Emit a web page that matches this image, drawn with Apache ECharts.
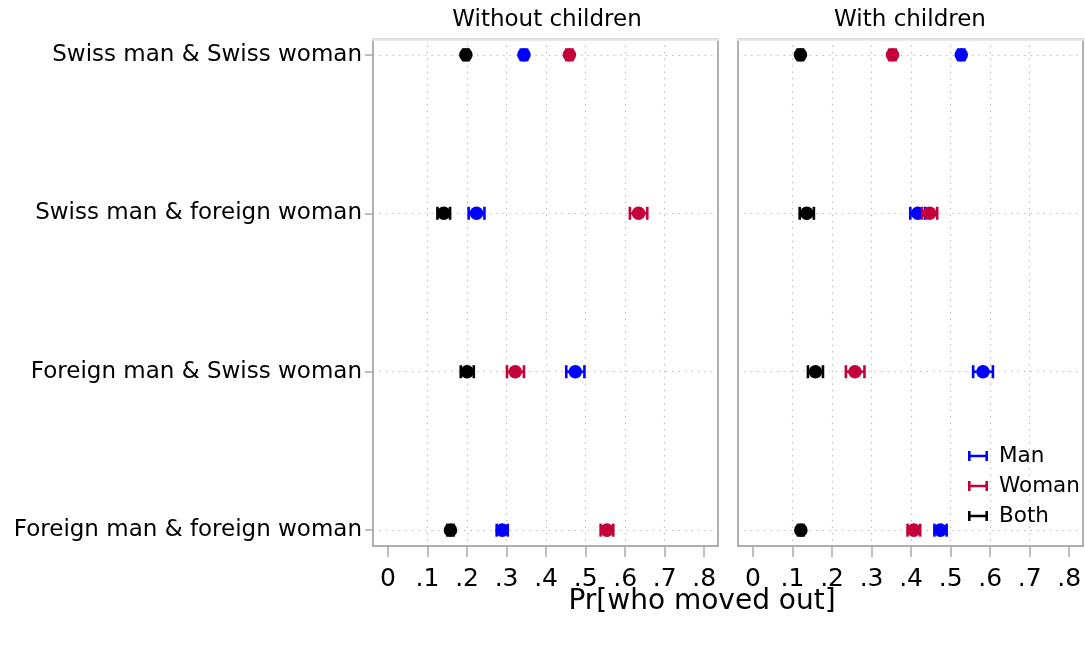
<!DOCTYPE html>
<html>
<head>
<meta charset="utf-8">
<script src="https://cdn.jsdelivr.net/npm/echarts@6/dist/echarts.min.js"></script>
<style>
  html, body { margin: 0; padding: 0; background: #fff; }
  #chart { width: 1085px; height: 646px; }
</style>
</head>
<body>
<div id="chart"></div>
<script>
// rows of the chart, top to bottom
const couples = ['Swiss man & Swiss woman', 'Swiss man & foreign woman', 'Foreign man & Swiss woman', 'Foreign man & foreign woman'];
const panels = ['Without children', 'With children'];
const xTicks = [0, 0.1, 0.2, 0.3, 0.4, 0.5, 0.6, 0.7, 0.8];
const xGridLines = [0.1, 0.2, 0.3, 0.4, 0.5, 0.6, 0.7];
const rowTicks = [1, 2, 3, 4];

// without children: estimate, lower, upper
const noKidsMan = [0.344, 0.224, 0.474, 0.289];
const noKidsManLo = [0.336, 0.204, 0.451, 0.275];
const noKidsManHi = [0.352, 0.244, 0.497, 0.303];
const noKidsWoman = [0.459, 0.634, 0.322, 0.554];
const noKidsWomanLo = [0.451, 0.612, 0.301, 0.538];
const noKidsWomanHi = [0.467, 0.656, 0.344, 0.570];
const noKidsBoth = [0.197, 0.141, 0.200, 0.158];
const noKidsBothLo = [0.190, 0.125, 0.184, 0.150];
const noKidsBothHi = [0.204, 0.157, 0.217, 0.166];

// with children
const kidsMan = [0.527, 0.417, 0.582, 0.474];
const kidsManLo = [0.519, 0.398, 0.557, 0.459];
const kidsManHi = [0.535, 0.436, 0.607, 0.490];
const kidsWoman = [0.353, 0.447, 0.258, 0.407];
const kidsWomanLo = [0.345, 0.428, 0.235, 0.391];
const kidsWomanHi = [0.361, 0.466, 0.282, 0.423];
const kidsBoth = [0.120, 0.136, 0.158, 0.121];
const kidsBothLo = [0.113, 0.118, 0.139, 0.114];
const kidsBothHi = [0.127, 0.154, 0.177, 0.128];

const colors = { Man: '#0000ff', Woman: '#c4003a', Both: '#000000' };
const font = '"DejaVu Sans", sans-serif';

function rows(est, lo, hi) {
  return est.map((v, i) => [v, i + 1, lo[i], hi[i]]);
}

function renderCI(params, api) {
  const a = api.coord([api.value(2), api.value(1)]);
  const b = api.coord([api.value(3), api.value(1)]);
  const p = api.coord([api.value(0), api.value(1)]);
  const c = api.visual('color');
  const st = { stroke: c, lineWidth: 2.6 };
  const h = 6.5;
  return {
    type: 'group',
    children: [
      { type: 'line', shape: { x1: a[0], y1: a[1], x2: b[0], y2: b[1] }, style: st },
      { type: 'line', shape: { x1: a[0], y1: a[1] - h, x2: a[0], y2: a[1] + h }, style: st },
      { type: 'line', shape: { x1: b[0], y1: b[1] - h, x2: b[0], y2: b[1] + h }, style: st },
      { type: 'circle', shape: { cx: p[0], cy: p[1], r: 6.8 }, style: { fill: c } }
    ]
  };
}

function ciSeries(name, panel, est, lo, hi) {
  return {
    name: name,
    type: 'custom',
    xAxisIndex: panel * 2,
    yAxisIndex: panel * 2,
    itemStyle: { color: colors[name] },
    encode: { x: [0, 2, 3], y: 1 },
    renderItem: renderCI,
    data: rows(est, lo, hi)
  };
}

const frame = '#ababab';
const dots = { color: '#c0c0c0', width: 1.2, type: [1.5, 5] };
const gridPos = [{ left: 373, width: 345 }, { left: 738, width: 345 }];

const grids = [], xAxes = [], yAxes = [];
gridPos.forEach((g, i) => {
  grids.push({ left: g.left, width: g.width, top: 39, bottom: 100, show: true,
    borderColor: frame, borderWidth: 1.5, backgroundColor: '#fff' });
  xAxes.push({
    gridIndex: i, type: 'value', min: -0.038, max: 0.835, position: 'bottom',
    axisLine: { show: true, onZero: false, lineStyle: { color: frame, width: 1.5 } },
    axisTick: { show: true, length: 11, customValues: xTicks, lineStyle: { color: frame, width: 1.5 } },
    axisLabel: { customValues: xTicks, margin: 21, color: '#000', fontFamily: font, fontSize: 25,
      formatter: v => v === 0 ? '0' : String(v).replace('0.', '.') },
    splitLine: { show: false }
  });
  xAxes.push({
    gridIndex: i, type: 'value', min: -0.038, max: 0.835, position: 'top',
    axisLine: { show: true, onZero: false, lineStyle: { color: '#e4e4e4', width: 2.5 } },
    axisTick: { show: false, customValues: xGridLines },
    axisLabel: { show: false },
    splitLine: { show: true, lineStyle: dots }
  });
  yAxes.push({
    gridIndex: i, type: 'value', min: 0.9, max: 4.1, inverse: true, position: 'left',
    axisLine: { show: true, onZero: false, lineStyle: { color: frame, width: 1.5 } },
    axisTick: { show: i === 0, length: 8, customValues: rowTicks, lineStyle: { color: frame, width: 1.5 } },
    axisLabel: { show: i === 0, customValues: rowTicks, margin: 11, color: '#000', fontFamily: font, fontSize: 23,
      formatter: v => couples[v - 1] },
    splitLine: { show: true, lineStyle: dots }
  });
  yAxes.push({
    gridIndex: i, type: 'value', min: 0.9, max: 4.1, inverse: true, position: 'right',
    axisLine: { show: true, onZero: false, lineStyle: { color: frame, width: 1.5 } },
    axisTick: { show: false }, axisLabel: { show: false }, splitLine: { show: false }
  });
});

const titleText = { fontFamily: font, fontSize: 23, fontWeight: 'normal', color: '#000' };

const chart = echarts.init(document.getElementById('chart'));
chart.setOption({
  animation: false,
  backgroundColor: '#fff',
  title: [
    { text: panels[0], left: 547, top: 9, padding: 0, textAlign: 'center', textStyle: titleText },
    { text: panels[1], left: 910, top: 9, padding: 0, textAlign: 'center', textStyle: titleText },
    { text: 'Pr[who moved out]', left: 702, top: 588, padding: 0, textAlign: 'center',
      textStyle: Object.assign({}, titleText, { fontSize: 28 }) }
  ],
  legend: {
    data: ['Man', 'Woman', 'Both'],
    orient: 'vertical', left: 963, top: 440, itemGap: 8,
    itemWidth: 20, itemHeight: 10,
    icon: 'path://M0,0H2.6V3.7H17.4V0H20V10H17.4V6.3H2.6V10H0Z',
    textStyle: { fontFamily: font, fontSize: 21.5, color: '#000', padding: [0, 0, 0, 6] }
  },
  grid: grids,
  xAxis: xAxes,
  yAxis: yAxes,
  series: [
    ciSeries('Man', 0, noKidsMan, noKidsManLo, noKidsManHi),
    ciSeries('Woman', 0, noKidsWoman, noKidsWomanLo, noKidsWomanHi),
    ciSeries('Both', 0, noKidsBoth, noKidsBothLo, noKidsBothHi),
    ciSeries('Man', 1, kidsMan, kidsManLo, kidsManHi),
    ciSeries('Woman', 1, kidsWoman, kidsWomanLo, kidsWomanHi),
    ciSeries('Both', 1, kidsBoth, kidsBothLo, kidsBothHi)
  ]
});
</script>
</body>
</html>
